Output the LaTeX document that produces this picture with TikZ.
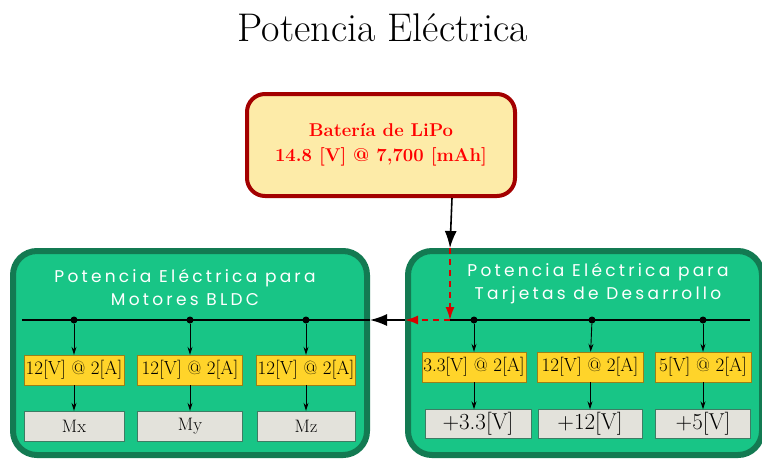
\documentclass[tikz,border=0pt]{standalone}
\usepackage{fontspec}
\newfontfamily\gothic[LetterSpace=19]{Poppins}
\usetikzlibrary{arrows.meta, positioning}
\definecolor{verde}{HTML}{18C586}
\definecolor{verdeosc}{HTML}{137A52}
\definecolor{crema}{HTML}{FDEBA8}
\definecolor{vino}{HTML}{A30000}
\definecolor{oro}{HTML}{FFD42A}
\definecolor{gris}{HTML}{E3E2DB}
\tikzstyle{bateria} = [rectangle, rounded corners=18pt, minimum width=268pt, minimum height=102pt, align=center, draw=vino, line width=4pt, fill=crema, text=red, font=\fontsize{18.5}{25}\selectfont\bfseries]
\tikzstyle{bloque} = [rectangle, rounded corners=24pt, minimum width=354pt, minimum height=204pt, draw=verdeosc, line width=6pt, fill=verde]
\tikzstyle{titulo} = [text=white, align=center, font=\gothic\fontsize{17}{23}\selectfont]
\tikzstyle{regulador} = [rectangle, minimum width=100pt, minimum height=30pt, inner sep=1pt, text centered, draw=oro!60!black, fill=oro, font=\fontsize{19}{21}\selectfont]
\tikzstyle{carga} = [rectangle, minimum width=100pt, minimum height=30pt, inner sep=1pt, text centered, draw=verdeosc!60!gray, fill=gris]
\tikzstyle{punto} = [circle, fill=black, inner sep=0pt, minimum size=7pt]
\tikzstyle{flecha} = [line width=1.6pt, -{Latex[length=17pt, width=12pt]}]
\tikzstyle{roja} = [red!85!black, dashed, line width=1.6pt, dash pattern=on 6pt off 5pt, -{Latex[length=13pt, width=9pt]}]
\tikzstyle{bus} = [line width=1.2pt]
\tikzstyle{rama} = [line width=0.9pt, -{Stealth[length=8pt, width=5pt]}]

\begin{document}
\begin{tikzpicture}[x=1pt, y=-1pt]
\useasboundingbox (0,0) rectangle (762,459);

\node (titulo) at (383,28) {\fontsize{40}{46}\selectfont Potencia Eléctrica};
\node (bat) [bateria] at (381,145) {Batería de LiPo\\14.8 [V] @ 7,700 [mAh]};

% bloques de potencia
\node (motores) [bloque] at (190,353) {};
\node (tarjetas) [bloque] at (585,353) {};
\node (tmot) [titulo] at (185,287) {Potencia Eléctrica para\\Motores BLDC};
\node (ttar) [titulo] at (598,284) {Potencia Eléctrica para\\Tarjetas de Desarrollo};

% buses
\coordinate (mi) at (22,320);
\coordinate (me) at (motores.east |- mi);
\coordinate (te) at (750,320);
\coordinate (ti) at (450,320);
\coordinate (tn) at (tarjetas.north -| ti);
\coordinate (tw) at (tarjetas.west |- ti);
\node (pm1) [punto] at (74,320) {};
\node (pm2) [punto] at (190,320) {};
\node (pm3) [punto] at (306,320) {};
\node (pt1) [punto] at (474,320) {};
\node (pt2) [punto] at (592,320) {};
\node (pt3) [punto] at (703,320) {};

% motores
\node (rm1) [regulador] at (74,370) {12[V] @ 2[A]};
\node (rm2) [regulador, minimum width=105pt] at (190,370) {12[V] @ 2[A]};
\node (rm3) [regulador, minimum width=98pt] at (306,370) {12[V] @ 2[A]};
\node (cm1) [carga, font=\fontsize{18}{20}\selectfont] at (74,426) {Mx};
\node (cm2) [carga, minimum width=105pt, font=\fontsize{18}{20}\selectfont] at (190,426) {My};
\node (cm3) [carga, minimum width=98pt, font=\fontsize{18}{20}\selectfont] at (306,426) {Mz};

% tarjetas
\node (rt1) [regulador] at (474,367) {3.3[V] @ 2[A]};
\node (rt2) [regulador, minimum width=106pt] at (590,367) {12[V] @ 2[A]};
\node (rt3) [regulador, minimum width=96pt] at (703,367) {5[V] @ 2[A]};
\node (ct1) [carga, minimum width=106pt, minimum height=29pt, font=\fontsize{23}{25}\selectfont] at (478,424) {+3.3[V]};
\node (ct2) [carga, minimum width=104pt, minimum height=29pt, font=\fontsize{23}{25}\selectfont] at (590,424) {+12[V]};
\node (ct3) [carga, minimum width=95pt, minimum height=29pt, font=\fontsize{23}{25}\selectfont] at (703,424) {+5[V]};

\draw [flecha] (bat.south -| 452,0) -- (tn);
\draw [roja] (tn) -- (ti);
\draw [roja] (ti) -- (tw);
\draw [flecha] (tw) -- (me);
\draw [bus] (mi) -- (me);
\draw [bus] (ti) -- (te);

\draw [rama] (pm1) -- (rm1);
\draw [rama] (pm2) -- (rm2);
\draw [rama] (pm3) -- (rm3);
\draw [rama] (rm1) -- (cm1);
\draw [rama] (rm2) -- (cm2);
\draw [rama] (rm3) -- (cm3);
\draw [rama] (pt1) -- (rt1);
\draw [rama] (pt2) -- (rt2);
\draw [rama] (pt3) -- (rt3);
\draw [rama] (rt1) -- (rt1 |- ct1.north);
\draw [rama] (rt2) -- (ct2);
\draw [rama] (rt3) -- (ct3);

\end{tikzpicture}
\end{document}
